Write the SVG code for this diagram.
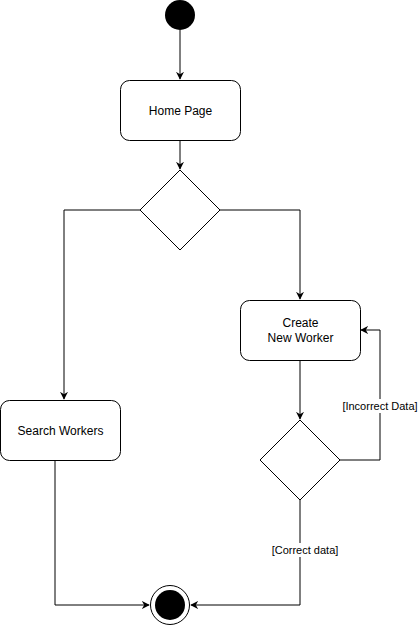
<svg xmlns="http://www.w3.org/2000/svg" width="419" height="626" viewBox="0 0 419 626">
<style>
.n{fill:#fff;stroke:#000;stroke-width:1}
.t{font-family:"Liberation Sans",Arial,sans-serif;font-size:12px;fill:#000;text-anchor:middle}
.e{fill:none;stroke:#000;stroke-width:1}
.lb{font-family:"Liberation Sans",Arial,sans-serif;font-size:11px;fill:#000;text-anchor:middle}
</style>
<defs>
<marker id="a" viewBox="0 0 10 10" refX="9" refY="5" markerWidth="8" markerHeight="8" markerUnits="userSpaceOnUse" orient="auto">
<path d="M0,0 L10,5 L0,10 L3,5 Z" fill="#000"/>
</marker>
</defs>
<g id="edges">
<path class="e" d="M180,30 V79" marker-end="url(#a)"/>
<path class="e" d="M180,140 V169" marker-end="url(#a)"/>
<path class="e" d="M140,210 H64 V399" marker-end="url(#a)"/>
<path class="e" d="M220,210 H300 V299" marker-end="url(#a)"/>
<path class="e" d="M300,360 V419" marker-end="url(#a)"/>
<path class="e" d="M340,460 H380 V330 H361" marker-end="url(#a)"/>
<path class="e" d="M300,500 V605 H191" marker-end="url(#a)"/>
<path class="e" d="M55,460 V605 H149" marker-end="url(#a)"/>
<rect x="342" y="399" width="76" height="14" fill="#fff"/>
<text class="lb" x="380" y="410">[Incorrect Data]</text>
<rect x="270" y="543" width="70" height="14" fill="#fff"/>
<text class="lb" x="305" y="554">[Correct data]</text>
</g>
<g id="start"><circle cx="180" cy="15" r="15" fill="#000"/></g>
<g id="home"><rect class="n" x="120.5" y="80.5" width="120" height="60" rx="9"/><text class="t" x="180.5" y="115">Home Page</text></g>
<g id="d1"><path class="n" d="M180,170 L220,210 L180,250 L140,210 Z"/></g>
<g id="create"><rect class="n" x="240.5" y="300.5" width="120" height="60" rx="9"/><text class="t" x="300.5" y="327">Create</text><text class="t" x="300.5" y="342">New Worker</text></g>
<g id="search"><rect class="n" x="0.5" y="400.5" width="120" height="60" rx="9"/><text class="t" x="60.5" y="435">Search Workers</text></g>
<g id="d2"><path class="n" d="M300,420 L340,460 L300,500 L260,460 Z"/></g>
<g id="end"><circle class="n" cx="170" cy="605" r="19.5"/><circle cx="170" cy="605" r="15" fill="#000"/></g>
</svg>
